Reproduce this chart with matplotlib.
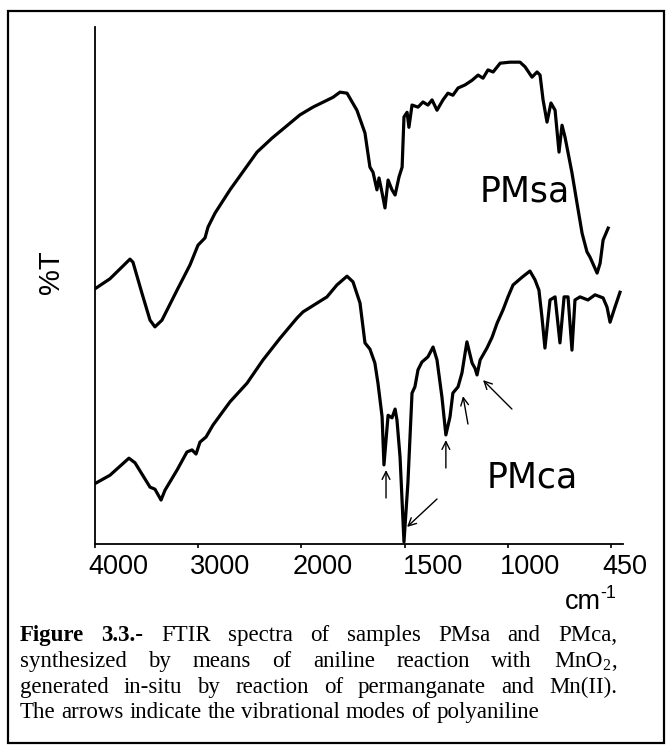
import numpy as np
import matplotlib
matplotlib.use('Agg')
import matplotlib.pyplot as plt
from matplotlib.patches import Rectangle
from matplotlib.transforms import ScaledTranslation, blended_transform_factory

plt.rcParams['mathtext.fontset'] = 'custom'
plt.rcParams['mathtext.rm'] = 'Liberation Serif'
plt.rcParams['mathtext.sf'] = 'Liberation Sans'

# tick labels of the wavenumber axis (evenly spaced on the original plot)
tick_wn = np.array([4000, 3000, 2000, 1500, 1000, 450])
tick_labels = ['4000', '3000', '2000', '1500', '1000', '450']

# PMsa spectrum (wavenumber cm-1, %T arbitrary)
pmsa_wn = [3990, 3855, 3661, 3632, 3545, 3467, 3419, 3351, 3205, 3079, 3002, 2934, 2905, 2837,
           2692, 2430, 2285, 2014, 1944, 1847, 1813, 1779, 1731, 1692, 1668, 1653, 1634, 1624,
           1609, 1595, 1580, 1561, 1546, 1527, 1512, 1503, 1488, 1479, 1464, 1435, 1411, 1387,
           1367, 1343, 1314, 1290, 1266, 1241, 1207, 1173, 1144, 1120, 1096, 1071, 1037, 988,
           935, 908, 871, 844, 828, 812, 791, 770, 748, 727, 711, 695, 658, 631, 604, 578, 562,
           524, 508, 492, 465]
pmsa_t = [49.5, 51.3, 55.1, 54.5, 48.5, 43.3, 42.0, 43.3, 49.1, 54.0, 57.8, 59.2, 61.3, 64.0,
          68.5, 75.8, 78.5, 83.0, 84.5, 86.4, 87.4, 87.2, 83.9, 79.5, 72.9, 71.9, 68.5, 70.8,
          67.9, 65.0, 70.4, 68.5, 67.5, 71.0, 72.9, 82.6, 83.5, 80.6, 84.9, 84.5, 85.5, 84.9,
          85.9, 83.9, 85.9, 87.2, 86.8, 88.2, 88.8, 89.7, 90.7, 90.1, 91.7, 91.3, 93.0, 93.2,
          93.2, 92.3, 90.3, 91.3, 90.7, 85.9, 81.6, 85.3, 83.9, 75.8, 81.0, 78.7, 71.8, 65.9,
          60.1, 56.5, 55.5, 52.4, 54.3, 58.8, 61.1]

# PMca spectrum
pmca_wn = [3990, 3855, 3671, 3612, 3467, 3419, 3360, 3322, 3205, 3109, 3060, 3021, 2983, 2924,
           2857, 2692, 2527, 2372, 2207, 2043, 1992, 1924, 1876, 1828, 1779, 1750, 1716, 1692,
           1668, 1644, 1629, 1609, 1600, 1580, 1561, 1546, 1537, 1522, 1503, 1484, 1464, 1450,
           1435, 1416, 1387, 1362, 1343, 1319, 1300, 1280, 1266, 1241, 1222, 1207, 1198, 1173,
           1159, 1149, 1134, 1101, 1076, 1052, 1023, 999, 972, 924, 882, 855, 834, 818, 802,
           775, 748, 722, 700, 679, 658, 642, 615, 573, 535, 492, 471, 455, 429, 402]
pmca_t = [11.8, 13.3, 16.6, 15.7, 11.0, 10.6, 8.5, 10.4, 14.3, 17.8, 18.2, 17.4, 19.7, 20.7,
          23.0, 27.5, 31.1, 35.6, 39.8, 43.7, 44.9, 46.6, 47.8, 50.1, 51.8, 50.7, 46.6, 38.9,
          37.7, 35.0, 31.1, 24.6, 15.3, 24.9, 24.4, 26.1, 24.0, 16.8, 0.4, 11.8, 29.2, 30.4,
          33.7, 35.2, 36.2, 38.1, 35.6, 28.4, 21.1, 24.6, 29.2, 30.4, 33.1, 36.9, 39.1, 35.0,
          34.0, 32.7, 35.6, 37.9, 40.0, 42.7, 45.3, 47.8, 50.1, 51.6, 52.8, 51.1, 49.1, 43.9,
          37.9, 47.2, 47.8, 38.9, 47.8, 47.8, 37.5, 47.2, 47.8, 47.2, 48.2, 47.6, 45.8, 42.9,
          45.8, 48.7]

# arrows marking polyaniline bands: (tail wn, tail T, head wn, head T)
arrows = [(1590, 8.9, 1590, 14.3),
          (1343, 8.7, 1488, 3.3),
          (1300, 14.7, 1300, 20.1),
          (1193, 23.2, 1217, 28.6),
          (978, 26.1, 1120, 31.7)]


# piecewise axis: ticks evenly spaced; increasing transform value with falling wavenumber
def wn_to_u(w):
    w = np.asarray(w, dtype=float)
    u = np.interp(-w, -tick_wn, np.arange(6))
    u = np.where(w < 450, 5 + (450 - w) / 550.0, u)
    u = np.where(w > 4000, (4000 - w) / 1000.0, u)
    return -u


def u_to_wn(u):
    u = -np.asarray(u, dtype=float)
    w = np.interp(u, np.arange(6), tick_wn)
    w = np.where(u > 5, 450 - (u - 5) * 550.0, w)
    w = np.where(u < 0, 4000 - u * 1000.0, w)
    return w


W, H = 672, 746
fig = plt.figure(figsize=(W / 100, H / 100), dpi=100)
fig.patch.set_facecolor('white')

# outer frame
fig.add_artist(Rectangle((8 / W, 1 - 743 / H), 656 / W, 732 / H, transform=fig.transFigure,
                         fill=False, lw=1.6, ec='black'))

ax = fig.add_axes([95 / W, 1 - 544 / H, 528 / W, 517 / H])
ax.set_xscale('function', functions=(wn_to_u, u_to_wn))
ax.set_xlim(4000, 386)
ax.set_ylim(0, 100)

ax.plot(pmsa_wn, pmsa_t, color='black', lw=2.3, solid_joinstyle='round')
ax.plot(pmca_wn, pmca_t, color='black', lw=2.3, solid_joinstyle='round')

for x0, y0, x1, y1 in arrows:
    ax.annotate('', xy=(x1, y1), xytext=(x0, y0),
                arrowprops=dict(arrowstyle='->', lw=1.0, color='black',
                                shrinkA=0, shrinkB=0, mutation_scale=14))

ax.text(908, 68.1, 'PMsa', fontsize=25, family='DejaVu Sans', ha='center', va='center')
ax.text(871, 12.8, 'PMca', fontsize=25, family='DejaVu Sans', ha='center', va='center')

for s in ['top', 'right']:
    ax.spines[s].set_visible(False)
for s in ['left', 'bottom']:
    ax.spines[s].set_linewidth(1.3)
ax.set_yticks([])
ax.set_xticks(tick_wn)
ax.tick_params(axis='x', direction='out', length=3, width=1.2, labelbottom=False)

# tick labels sit a little to the right of their ticks
label_shift = [23, 22, 21, 28, 22, 14]
base = blended_transform_factory(ax.transData, ax.transAxes)
for w, lab, dx in zip(tick_wn, tick_labels, label_shift):
    tr = base + ScaledTranslation(dx / 100, -23 / 100, fig.dpi_scale_trans)
    ax.text(w, 0, lab, transform=tr, ha='center', va='center', fontsize=19.5,
            family='Liberation Sans', clip_on=False)

fig.text(565 / W, 1 - 609 / H, 'cm', fontsize=19.5, family='Liberation Sans',
         ha='left', va='baseline')
fig.text(600 / W, 1 - 598 / H, '-1', fontsize=13, family='Liberation Sans',
         ha='left', va='baseline')
fig.text(51 / W, 1 - 272 / H, '%T', fontsize=21, family='Liberation Sans', rotation=90,
         ha='center', va='center')

# caption, justified like the original
caption = [
    [('Figure', 'bold'), ('3.3.-', 'bold'), ('FTIR', 'normal'), ('spectra', 'normal'),
     ('of', 'normal'), ('samples', 'normal'), ('PMsa', 'normal'), ('and', 'normal'),
     ('PMca,', 'normal')],
    [(w, 'normal') for w in ['synthesized', 'by', 'means', 'of', 'aniline', 'reaction', 'with',
                             r'MnO$_\mathrm{2}$,']],
    [(w, 'normal') for w in ['generated', 'in-situ', 'by', 'reaction', 'of', 'permanganate',
                             'and', 'Mn(II).']],
    [(w, 'normal') for w in ['The', 'arrows', 'indicate', 'the', 'vibrational', 'modes', 'of',
                             'polyaniline']],
]
cap_left, cap_right = 20, 617
baselines = [641, 667, 693, 718]
cap_size = 16.5

renderer = fig.canvas.get_renderer()
for li, (words, yb) in enumerate(zip(caption, baselines)):
    texts = [fig.text(0, 1 - yb / H, w, fontsize=cap_size, family='Liberation Serif',
                      weight=wt, ha='left', va='baseline') for w, wt in words]
    widths = [t.get_window_extent(renderer).width for t in texts]
    if li < len(caption) - 1:
        gap = (cap_right - cap_left - sum(widths)) / (len(words) - 1)
    else:
        gap = cap_size * 100 / 72 * 0.25
    x = cap_left
    for t, wdt in zip(texts, widths):
        t.set_x(x / W)
        x += wdt + gap

fig.savefig('out.png', dpi=100)
